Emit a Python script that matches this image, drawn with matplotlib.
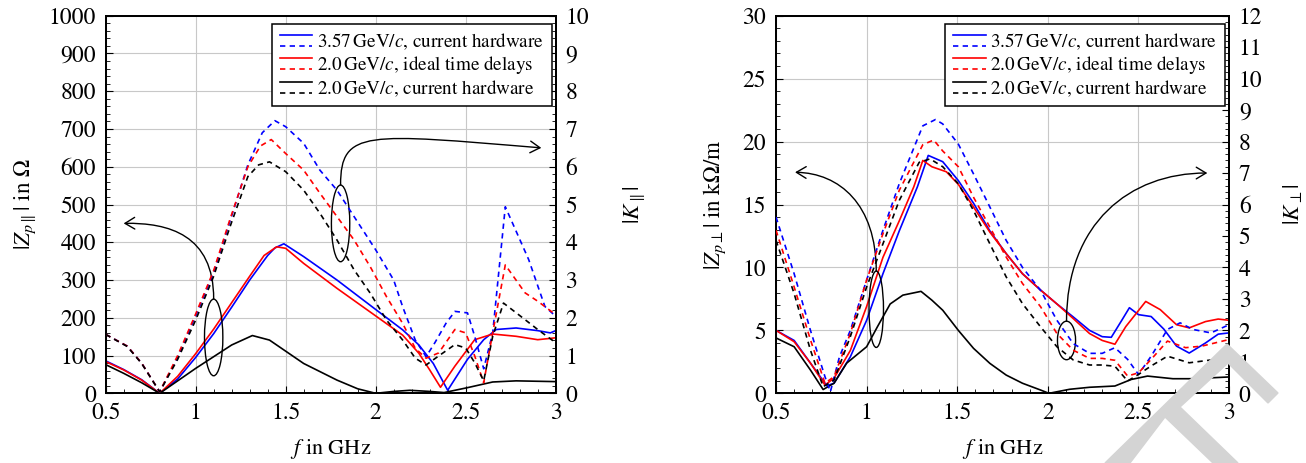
#!/usr/bin/env python
"""
beam coupling impedance and kicker sensitivity, longitudinal and transverse
"""

# used libraries
import matplotlib
matplotlib.use("Agg")
from matplotlib import pyplot as plt
from matplotlib.lines import Line2D
from matplotlib.patches import Ellipse, FancyArrowPatch, Polygon
from matplotlib.path import Path
from matplotlib.legend_handler import HandlerBase
from matplotlib.ticker import MultipleLocator

# legend labels
labels = [r"3.57$\,$GeV$/c$, current hardware",
          r"2.0$\,$GeV$/c$, ideal time delays",
          r"2.0$\,$GeV$/c$, current hardware"]

# longitudinal impedance |Z_p||| in Ohm (left panel, solid)
zl_blue_f = [0.5, 0.6, 0.7, 0.8, 0.9, 1.0, 1.1, 1.2, 1.3, 1.4, 1.44, 1.49,
             1.6, 1.785, 2.0, 2.15, 2.24, 2.32, 2.4, 2.51, 2.6, 2.67, 2.78,
             2.9, 2.97, 3.0]
zl_blue = [86, 63, 36, 0, 38, 95, 158, 228, 300, 365, 385, 396, 362, 300,
           222, 168, 128, 79, 8, 90, 142, 169, 173, 166, 160, 166]
zl_red_f = [0.5, 0.6, 0.7, 0.8, 0.9, 1.0, 1.1, 1.2, 1.3, 1.38, 1.45, 1.5,
            1.6, 1.785, 2.0, 2.15, 2.24, 2.3, 2.36, 2.44, 2.55, 2.65, 2.78,
            2.9, 3.0]
zl_red = [84, 62, 35, 0, 45, 105, 170, 240, 310, 365, 388, 384, 344, 278,
          205, 154, 106, 62, 16, 72, 142, 157, 151, 142, 147]
zl_black_f = [0.5, 0.6, 0.7, 0.8, 0.9, 1.0, 1.1, 1.2, 1.315, 1.41, 1.6,
              1.785, 1.9, 2.0, 2.1, 2.19, 2.3, 2.38, 2.51, 2.65, 2.78, 3.0]
zl_black = [76, 53, 28, 0, 33, 66, 97, 128, 153, 141, 79, 35, 12, 0, 5, 8,
            5, 2, 15, 30, 33, 31]

# longitudinal kicker sensitivity |K||| (left panel, dashed)
kl_blue_f = [0.5, 0.62, 0.7, 0.8, 0.9, 1.0, 1.1, 1.19, 1.29, 1.37, 1.44,
             1.5, 1.6, 1.69, 1.785, 1.88, 2.0, 2.1, 2.15, 2.22, 2.28, 2.33,
             2.39, 2.44, 2.51, 2.55, 2.6, 2.65, 2.72, 2.85, 2.94, 3.0]
kl_blue = [1.56, 1.25, 0.80, 0.04, 0.95, 2.05, 3.2, 4.55, 6.05, 6.9, 7.22,
           7.06, 6.62, 5.91, 5.38, 4.68, 3.80, 3.0, 2.29, 1.41, 0.97, 1.35,
           1.85, 2.17, 2.13, 1.51, 0.65, 1.6, 4.94, 3.54, 2.3, 2.04]
kl_red_f = [0.5, 0.62, 0.7, 0.8, 0.9, 1.0, 1.1, 1.19, 1.29, 1.36, 1.42, 1.5,
            1.6, 1.69, 1.785, 1.88, 1.97, 2.06, 2.15, 2.22, 2.28, 2.35, 2.44,
            2.5, 2.55, 2.6, 2.65, 2.72, 2.83, 2.9, 3.0]
kl_red = [1.56, 1.25, 0.80, 0.04, 1.0, 2.1, 3.25, 4.6, 6.0, 6.55, 6.72, 6.35,
          5.91, 5.30, 4.68, 4.06, 3.35, 2.56, 1.85, 1.19, 0.93, 1.07, 1.69,
          1.6, 0.99, 0.28, 1.6, 3.4, 2.66, 2.44, 2.08]
kl_black_f = [0.5, 0.62, 0.7, 0.8, 0.9, 1.0, 1.1, 1.19, 1.29, 1.35, 1.41,
              1.5, 1.6, 1.69, 1.785, 1.88, 1.97, 2.06, 2.15, 2.22, 2.28, 2.35,
              2.44, 2.5, 2.55, 2.6, 2.65, 2.71, 2.83, 2.9, 3.0]
kl_black = [1.56, 1.24, 0.79, 0.04, 0.9, 1.94, 3.1, 4.4, 5.74, 6.05, 6.13,
            5.87, 5.38, 4.77, 4.06, 3.27, 2.65, 1.94, 1.41, 0.93, 0.75, 0.99,
            1.29, 1.2, 0.81, 0.33, 1.51, 2.39, 1.95, 1.69, 1.34]

# transverse impedance |Z_p_perp| in kOhm/m (right panel, solid)
zt_blue_f = [0.5, 0.6, 0.69, 0.78, 0.82, 0.91, 1.0, 1.09, 1.18, 1.28, 1.34,
             1.42, 1.506, 1.59, 1.68, 1.77, 1.86, 1.96, 2.05, 2.14, 2.23, 2.3,
             2.35, 2.41, 2.45, 2.5, 2.57, 2.64, 2.71, 2.78, 2.87, 2.94, 3.0]
zt_blue = [5.0, 4.2, 2.4, 0.6, 0.8, 2.9, 5.8, 9.5, 12.9, 16.4, 18.9, 18.4,
           16.9, 15.1, 12.9, 11.1, 9.5, 8.2, 7.1, 6.07, 5.0, 4.5, 4.45, 5.85,
           6.8, 6.25, 6.1, 5.1, 3.75, 3.2, 4.0, 4.7, 4.8]
zt_red_f = [0.5, 0.6, 0.69, 0.77, 0.82, 0.91, 1.0, 1.09, 1.18, 1.26, 1.31,
            1.36, 1.44, 1.506, 1.59, 1.68, 1.77, 1.86, 1.96, 2.05, 2.14, 2.23,
            2.3, 2.37, 2.43, 2.54, 2.62, 2.71, 2.78, 2.87, 2.94, 3.0]
zt_red = [5.0, 4.1, 2.4, 0.66, 1.2, 3.4, 6.9, 10.8, 13.7, 16.4, 18.5, 18.0,
          17.6, 16.6, 14.8, 12.8, 11.1, 9.5, 8.2, 7.1, 5.94, 4.75, 4.2, 3.9,
          5.3, 7.3, 6.65, 5.45, 5.2, 5.7, 5.9, 5.8]
zt_black_f = [0.5, 0.6, 0.69, 0.76, 0.82, 0.89, 1.0, 1.06, 1.13, 1.2, 1.3,
              1.36, 1.42, 1.506, 1.59, 1.68, 1.77, 1.86, 1.96, 2.006, 2.12,
              2.23, 2.37, 2.46, 2.55, 2.69, 2.8, 3.0]
zt_black = [4.4, 3.7, 1.85, 0.3, 0.8, 2.4, 3.7, 5.3, 7.1, 7.8, 8.1, 7.4, 6.6,
            5.0, 3.57, 2.38, 1.45, 0.8, 0.26, 0.0, 0.32, 0.48, 0.58, 1.1,
            1.37, 1.16, 1.16, 1.3]

# transverse kicker sensitivity |K_perp| (right panel, dashed)
kt_blue_f = [0.5, 0.6, 0.69, 0.77, 0.8, 0.85, 0.91, 1.0, 1.09, 1.18, 1.31,
             1.38, 1.42, 1.506, 1.59, 1.68, 1.77, 1.86, 1.96, 2.05, 2.14,
             2.23, 2.3, 2.37, 2.44, 2.5, 2.57, 2.66, 2.73, 2.8, 2.9, 3.0]
kt_blue = [5.6, 3.8, 2.0, 0.53, 0.05, 1.16, 2.0, 3.6, 5.18, 6.66, 8.5, 8.7,
           8.56, 7.92, 6.97, 5.92, 4.86, 4.0, 3.27, 2.32, 1.58, 1.27, 1.27,
           1.45, 1.08, 0.6, 1.18, 2.03, 2.24, 2.03, 1.92, 2.18]
kt_red_f = [0.5, 0.6, 0.69, 0.77, 0.82, 0.91, 1.0, 1.09, 1.18, 1.31, 1.37,
            1.42, 1.506, 1.59, 1.68, 1.77, 1.86, 1.96, 2.05, 2.14, 2.23, 2.3,
            2.37, 2.44, 2.5, 2.57, 2.66, 2.76, 2.85, 3.0]
kt_red = [5.18, 3.38, 1.7, 0.32, 0.53, 1.9, 3.6, 5.07, 6.45, 7.9, 8.05, 7.7,
          7.2, 6.23, 5.28, 4.33, 3.49, 2.75, 1.9, 1.37, 1.11, 1.11, 1.05, 0.55,
          0.65, 1.08, 1.66, 1.45, 1.5, 1.71]
kt_black_f = [0.5, 0.6, 0.69, 0.76, 0.82, 0.91, 1.0, 1.09, 1.18, 1.29, 1.35,
              1.42, 1.506, 1.59, 1.68, 1.77, 1.86, 1.96, 2.05, 2.14, 2.23, 2.3,
              2.37, 2.44, 2.5, 2.57, 2.66, 2.78, 2.9, 3.0]
kt_black = [4.86, 3.17, 1.37, 0.21, 0.42, 1.8, 3.38, 4.75, 6.13, 7.34, 7.45,
            7.2, 6.66, 5.81, 4.75, 3.7, 2.85, 2.11, 1.48, 1.06, 0.9, 0.9, 0.86,
            0.39, 0.6, 0.87, 1.18, 0.97, 1.06, 1.13]

# fonts (Times-like, as in the LaTeX original)
plt.rcParams["font.family"] = "STIXGeneral"
plt.rcParams["mathtext.fontset"] = "stix"

COLORS = ["blue", "red", "black"]
DASH = (0, (3.2, 2.6))
LW = 1.2


class PairHandler(HandlerBase):
    """
    legend handler drawing a solid line above a dashed line;
    """

    def create_artists(self, legend, orig_handle, xdescent, ydescent,
                       width, height, fontsize, trans):

        # colour of the pair
        col = orig_handle[0].get_color()
        xs = [-xdescent, -xdescent + width]

        # solid on top, dashed below
        top = Line2D(xs, [height * 1.0 - ydescent] * 2, color=col, lw=LW)
        bot = Line2D(xs, [height * 0.0 - ydescent] * 2, color=col, lw=LW,
                     ls=DASH)
        top.set_transform(trans)
        bot.set_transform(trans)
        return [top, bot]


def style_axes(ax, ax2, ymax, ymajor, yminor, kmax, kminor):
    """
    set limits, ticks and grid of a panel;
    """

    ax.set_xlim(0.5, 3)
    ax.set_ylim(0, ymax)
    ax2.set_ylim(0, kmax)
    ax.xaxis.set_major_locator(MultipleLocator(0.5))
    ax.xaxis.set_minor_locator(MultipleLocator(0.1))
    ax.yaxis.set_major_locator(MultipleLocator(ymajor))
    ax.yaxis.set_minor_locator(MultipleLocator(yminor))
    ax2.yaxis.set_major_locator(MultipleLocator(1))
    ax2.yaxis.set_minor_locator(MultipleLocator(kminor))
    ax.xaxis.set_major_formatter(plt.FuncFormatter(lambda v, p: f"{v:g}"))

    # inward ticks like pgfplots
    ax.tick_params(axis="both", which="both", direction="in", labelsize=17,
                   top=False, right=False)
    ax.tick_params(axis="y", which="major", length=5, width=0.8, pad=7)
    ax.tick_params(axis="x", which="major", length=5, width=0.8, pad=7)
    ax.tick_params(which="minor", length=3, width=0.6)
    ax2.tick_params(axis="y", which="both", direction="in", labelsize=17,
                    pad=7)
    ax2.tick_params(axis="y", which="major", length=5, width=0.8)
    ax2.tick_params(axis="y", which="minor", length=3, width=0.6)

    # major grid only
    ax.grid(True, which="major", color="#c8c8c8", lw=0.8)
    ax.set_axisbelow(True)

    for spine in list(ax.spines.values()) + list(ax2.spines.values()):
        spine.set_linewidth(1.4)

    ax.set_xlabel(r"$f$ in GHz", fontsize=16, labelpad=9)


def curved_arrow(ax, verts):
    """
    draw a cubic bezier arrow through the given control points;
    """

    path = Path(verts, [Path.MOVETO, Path.CURVE4, Path.CURVE4, Path.CURVE4])
    arrow = FancyArrowPatch(path=path, arrowstyle="->,head_length=0.5,"
                            "head_width=0.3", mutation_scale=14,
                            color="black", lw=1.0, transform=ax.transData,
                            zorder=6)
    ax.add_patch(arrow)


def panel(fig, rect, zs, ks, ymax, ymajor, yminor, kmax, kminor,
          ylabel, klabel, leg_anchor):
    """
    draw one panel with impedance (solid) and sensitivity (dashed);
    """

    ax = fig.add_axes(rect)
    ax2 = ax.twinx()

    # solid impedance curves and dashed sensitivity curves
    solids = []
    dashes = []
    for (f, v), col in zip(zs, COLORS):
        solids.append(ax.plot(f, v, color=col, lw=LW, zorder=3)[0])
    for (f, v), col in zip(ks, COLORS):
        dashes.append(ax2.plot(f, v, color=col, lw=LW, ls=DASH,
                               zorder=3)[0])

    style_axes(ax, ax2, ymax, ymajor, yminor, kmax, kminor)
    ax.set_ylabel(ylabel, fontsize=16.5)
    ax2.set_ylabel(klabel, fontsize=16.5)

    # legend with stacked solid/dashed handles
    leg = ax2.legend(list(zip(solids, dashes)), labels,
                     handler_map={tuple: PairHandler()},
                     loc="upper right", bbox_to_anchor=leg_anchor,
                     borderaxespad=0, fontsize=13.8, fancybox=False,
                     edgecolor="black", framealpha=1, handlelength=1.7,
                     handleheight=0.48, handletextpad=0.25,
                     labelspacing=0.12, borderpad=0.4)
    leg.get_frame().set_linewidth(1.1)
    leg.set_zorder(10)

    return ax, ax2


def main():
    """
    mainfunction
    """

    fig = plt.figure(figsize=(13.06, 4.63), dpi=100)

    # grey watermark in the lower right corner (figure pixels)
    mark = [(1105, 463), (1227, 344), (1278, 393), (1268, 403), (1228, 363),
            (1180, 407), (1238, 463), (1213, 463), (1165, 417), (1130, 463)]
    fig.patches.append(Polygon([(x / 1306, 1 - y / 463) for x, y in mark],
                               closed=True, transform=fig.transFigure,
                               color="#d4d4d4", zorder=0))

    # longitudinal panel
    ax, ax2 = panel(fig, [0.0809, 0.1505, 0.3446, 0.8156],
                    [(zl_blue_f, zl_blue), (zl_red_f, zl_red),
                     (zl_black_f, zl_black)],
                    [(kl_blue_f, kl_blue), (kl_red_f, kl_red),
                     (kl_black_f, kl_black)],
                    1000, 100, 20, 10, 0.2,
                    r"$|Z_{p\parallel}|$ in $\Omega$", r"$|K_{\parallel}|$",
                    (0.991, 0.979))
    ax.yaxis.set_label_coords(-0.15, 0.5)
    ax2.yaxis.set_label_coords(1.145, 0.5)

    # ellipses marking the curve groups
    ax.add_patch(Ellipse((1.1, 148), 0.102, 203, fill=False, color="black",
                         lw=1.0, zorder=6))
    ax.add_patch(Ellipse((1.805, 450), 0.102, 203, fill=False,
                         color="black", lw=1.0, zorder=6))
    curved_arrow(ax, [(1.1, 250), (1.1, 420), (0.85, 452), (0.6, 450)])
    curved_arrow(ax, [(1.805, 552), (1.805, 700), (1.95, 688), (2.92, 650)])

    # transverse panel
    bx, bx2 = panel(fig, [0.5942, 0.1505, 0.3469, 0.8156],
                    [(zt_blue_f, zt_blue), (zt_red_f, zt_red),
                     (zt_black_f, zt_black)],
                    [(kt_blue_f, kt_blue), (kt_red_f, kt_red),
                     (kt_black_f, kt_black)],
                    30, 5, 1, 12, 0.2,
                    r"$|Z_{p\perp}|$ in k$\Omega$/m", r"$|K_{\perp}|$",
                    (0.991, 0.979))
    bx.yaxis.set_label_coords(-0.105, 0.5)
    bx2.yaxis.set_label_coords(1.115, 0.5)

    bx.add_patch(Ellipse((1.053, 6.68), 0.08, 6.07, fill=False,
                         color="black", lw=1.0, zorder=6))
    bx.add_patch(Ellipse((2.103, 4.2), 0.1, 3.06, fill=False, color="black",
                         lw=1.0, zorder=6))
    curved_arrow(bx, [(1.053, 9.7), (1.053, 15.0), (0.85, 17.5),
                      (0.605, 17.56)])
    curved_arrow(bx, [(2.103, 5.73), (2.103, 13.5), (2.45, 17.5),
                      (2.88, 17.5)])

    fig.savefig("out.png", dpi=100)


if __name__ == "__main__":
    main()
